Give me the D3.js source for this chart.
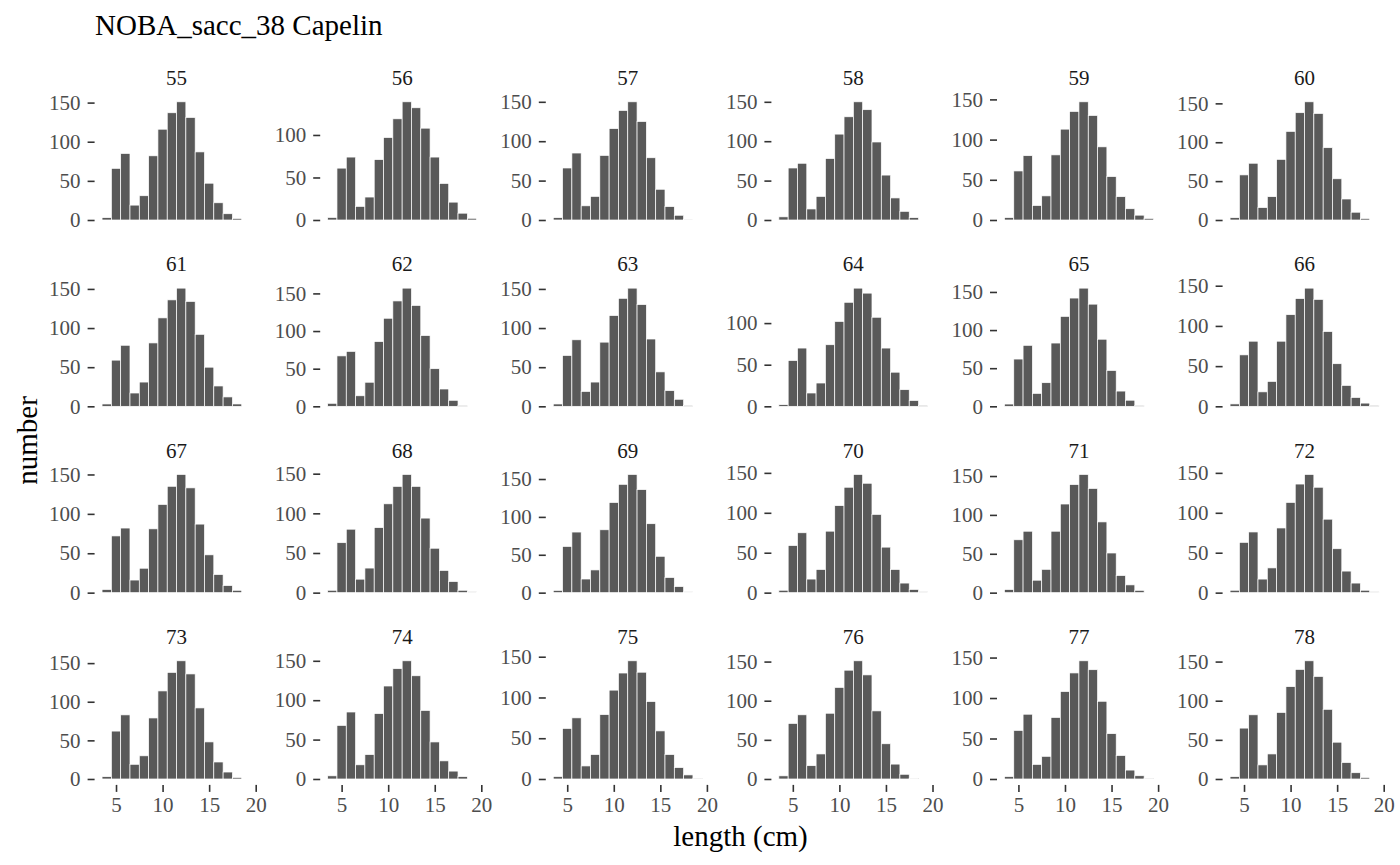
<!DOCTYPE html>
<html>
<head>
<meta charset="utf-8">
<script src="https://cdn.jsdelivr.net/npm/d3@7"></script>
<style>
  body { margin: 0; background: #fff; }
  text { font-family: "Liberation Serif", "DejaVu Serif", serif; }
</style>
</head>
<body>
<div id="chart"></div>
<script>
// Panel labels (facets) and length classes (cm)
const panels = ["55","56","57","58","59","60","61","62","63","64","65","66",
                "67","68","69","70","71","72","73","74","75","76","77","78"];
const lengths = [4,5,6,7,8,9,10,11,12,13,14,15,16,17,18,19];

// Counts per panel, starting at 4 cm
const n55 = [3,66,85,19,31,82,116,137,151,131,87,47,22,8,2];
const n56 = [3,61,74,16,27,71,97,119,139,132,108,74,43,21,8,2];
const n57 = [3,66,85,18,30,82,116,139,150,125,79,39,17,6,1];
const n58 = [4,66,72,14,30,78,109,131,150,140,99,57,28,11,3];
const n59 = [3,61,80,18,30,81,113,135,147,130,91,54,29,14,6,2];
const n60 = [3,58,73,16,30,78,114,138,152,137,93,53,27,10,2];
const n61 = [3,59,78,17,31,81,113,136,151,134,92,50,26,12,3];
const n62 = [4,67,73,14,32,86,117,140,157,134,94,50,23,8,1];
const n63 = [3,65,85,19,31,82,116,138,151,130,86,44,20,9,1];
const n64 = [2,55,70,16,28,74,102,125,142,136,107,70,41,20,7,1];
const n65 = [3,62,80,17,31,83,118,142,155,134,88,47,20,8,1];
const n66 = [3,64,81,18,31,81,114,134,147,133,93,53,26,11,4,1];
const n67 = [4,72,82,16,31,81,112,135,150,133,87,48,23,9,3];
const n68 = [3,63,80,17,31,82,112,134,149,134,94,56,28,14,3,1];
const n69 = [3,61,80,18,30,83,119,143,156,136,91,48,20,8,1];
const n70 = [3,59,75,17,29,77,109,132,148,137,98,57,29,12,4,1];
const n71 = [4,68,79,16,30,79,114,139,152,134,91,51,22,10,3];
const n72 = [3,63,76,17,31,81,113,136,148,132,92,55,27,12,3,1];
const n73 = [3,62,83,19,30,79,114,138,153,136,92,48,22,9,2];
const n74 = [4,68,85,18,31,83,118,140,150,131,87,47,23,10,3];
const n75 = [3,62,75,16,30,79,109,130,145,131,95,59,30,14,5,1];
const n76 = [4,71,82,17,32,84,117,139,151,133,87,45,19,6,1];
const n77 = [3,60,80,18,28,76,108,131,146,135,96,56,29,11,4,1];
const n78 = [3,65,82,18,32,85,118,140,151,131,89,47,21,8,2];

const counts = [n55,n56,n57,n58,n59,n60,n61,n62,n63,n64,n65,n66,
                n67,n68,n69,n70,n71,n72,n73,n74,n75,n76,n77,n78];

const xBreaks = [5, 10, 15, 20];
const yBreaks = [0, 50, 100, 150];

const titleText = "NOBA_sacc_38 Capelin";
const xTitle = "length (cm)";
const yTitle = "number";

// layout
const W = 1400, H = 865;
const ncol = 6;
const panelLeft0 = 94.6, colStep = 225.6, panelW = 163.9;
const panelBottom0 = 225.9, rowStep = 186.33, panelH = 130;
const tickLen = 7;

const svg = d3.select("#chart").append("svg")
  .attr("width", W)
  .attr("height", H);

svg.append("rect").attr("width", W).attr("height", H).attr("fill", "#fff");

// shared x scale, 5% expansion like ggplot
const xmin = d3.min(lengths) - 0.5, xmax = d3.max(lengths) + 0.5;
const xpad = (xmax - xmin) * 0.05;
const x = d3.scaleLinear().domain([xmin - xpad, xmax + xpad]).range([0, panelW]);

panels.forEach((lab, i) => {
  const col = i % ncol, row = Math.floor(i / ncol);
  const left = panelLeft0 + col * colStep;
  const top = panelBottom0 + row * rowStep - panelH;
  const vals = counts[i].map((v, j) => ({ len: lengths[j], n: v }));

  const ymax = d3.max(vals, d => d.n);
  const y = d3.scaleLinear()
    .domain([-0.05 * ymax, ymax * 1.05])
    .range([panelH, 0]);

  const g = svg.append("g").attr("transform", `translate(${left},${top})`);

  // strip label
  g.append("text")
    .attr("x", panelW / 2)
    .attr("y", -11)
    .attr("text-anchor", "middle")
    .attr("fill", "#1a1a1a")
    .style("font-size", "21px")
    .text(lab);

  // bars
  g.selectAll("rect.bar")
    .data(vals)
    .join("rect")
    .attr("class", "bar")
    .attr("x", d => x(d.len - 0.5))
    .attr("width", d => x(d.len + 0.5) - x(d.len - 0.5))
    .attr("y", d => y(d.n))
    .attr("height", d => y(0) - y(d.n))
    .attr("fill", "#595959")
    .attr("stroke", "#ffffff")
    .attr("stroke-width", 0.7);

  // y axis
  const yAxis = d3.axisLeft(y)
    .tickValues(yBreaks.filter(v => v <= y.domain()[1]))
    .tickSize(tickLen)
    .tickPadding(7);
  const ya = g.append("g").call(yAxis);
  ya.select(".domain").remove();
  ya.selectAll("line").attr("stroke", "#333333").attr("stroke-width", 1.6);
  ya.selectAll("text")
    .attr("fill", "#4d4d4d")
    .style("font-size", "21px")
    .style("font-family", "'Liberation Serif', serif");

  // x axis, bottom row only
  if (row === Math.floor((panels.length - 1) / ncol)) {
    const xAxis = d3.axisBottom(x)
      .tickValues(xBreaks)
      .tickSize(tickLen)
      .tickPadding(5);
    const xa = g.append("g").attr("transform", `translate(0,${panelH})`).call(xAxis);
    xa.select(".domain").remove();
    xa.selectAll("line").attr("stroke", "#333333").attr("stroke-width", 1.6);
    xa.selectAll("text")
      .attr("fill", "#4d4d4d")
      .style("font-size", "21px")
      .style("font-family", "'Liberation Serif', serif");
  }
});

// titles
svg.append("text")
  .attr("x", 95)
  .attr("y", 35)
  .attr("fill", "#000")
  .style("font-size", "29px")
  .text(titleText);

const plotMid = panelLeft0 + ((ncol - 1) * colStep + panelW) / 2;
svg.append("text")
  .attr("x", plotMid)
  .attr("y", 846)
  .attr("text-anchor", "middle")
  .attr("fill", "#000")
  .style("font-size", "29px")
  .text(xTitle);

const rowsTop = panelBottom0 - panelH;
const rowsBottom = panelBottom0 + 3 * rowStep;
svg.append("text")
  .attr("transform", `translate(37,${(rowsTop + rowsBottom) / 2}) rotate(-90)`)
  .attr("text-anchor", "middle")
  .attr("fill", "#000")
  .style("font-size", "29px")
  .text(yTitle);
</script>
</body>
</html>
